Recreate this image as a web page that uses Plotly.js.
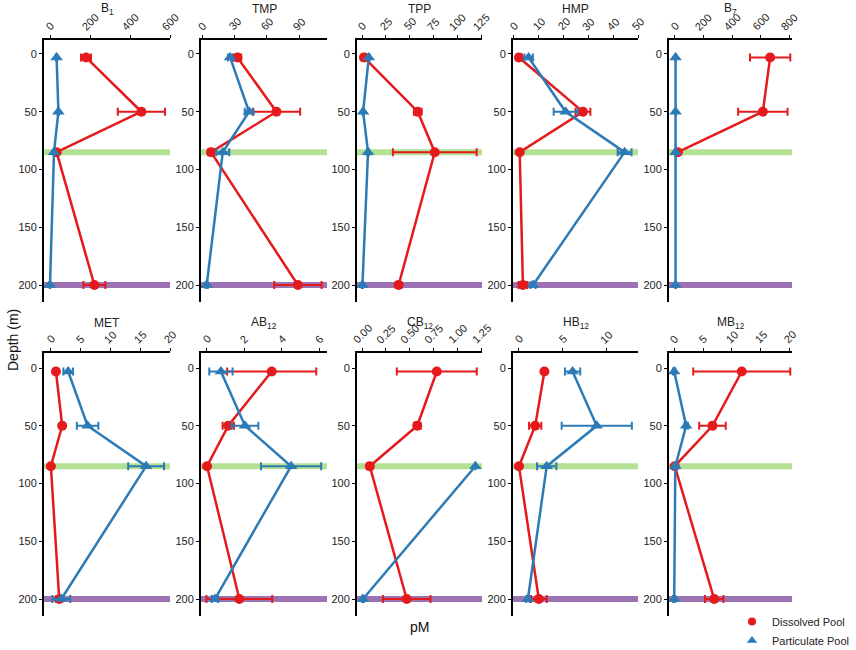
<!DOCTYPE html>
<html>
<head>
<meta charset="utf-8">
<script src="https://cdn.plot.ly/plotly-3.0.1.min.js"></script>
<style>
  body { margin: 0; background: #fff; }
  #chart { width: 856px; height: 650px; }
</style>
</head>
<body>
<div id="chart"></div>
<script>
// sampling depths (m)
const depths = [3, 50, 85, 200];

// panel titles, row by row
const panelNames = ['B<sub>1</sub>', 'TMP', 'TPP', 'HMP', 'B<sub>7</sub>',
                    'MET', 'AB<sub>12</sub>', 'CB<sub>12</sub>', 'HB<sub>12</sub>', 'MB<sub>12</sub>'];

// tick values on the pM axis of each panel
const pmTicks = [
  [0, 200, 400, 600],
  [0, 30, 60, 90],
  [0, 25, 50, 75, 100, 125],
  [0, 10, 20, 30, 40, 50],
  [0, 200, 400, 600, 800],
  [0, 5, 10, 15, 20],
  [0, 2, 4, 6],
  [0, 0.25, 0.5, 0.75, 1.0, 1.25],
  [0, 5, 10],
  [0, 5, 10, 15, 20]
];
const pmTickText = [
  null, null, null, null, null, null, null,
  ['0.00', '0.25', '0.50', '0.75', '1.00', '1.25'],
  null, null
];

// dissolved pool (red) means and errors
const dissolved = [
  [180, 457, 33, 222],
  [32.6, 68.8, 8.1, 88.7],
  [2, 58.5, 76.4, 38.4],
  [2, 27.8, 2.3, 3.6],
  [667, 616, 21, null],
  [0.9, 1.95, 0.05, 1.45],
  [3.46, 1.15, 0.02, 1.74],
  [0.785, 0.58, 0.081, 0.469],
  [2.94, 1.89, 0.04, 2.3],
  [11.7, 6.63, 0.1, 6.93]
];
const dissolvedErr = [
  [25, 118, 4, 55],
  [3.5, 22, 2.7, 22],
  [2.5, 4, 44, 3],
  [1.1, 3, 0.5, 1.8],
  [141, 173, 8, 0],
  [0.2, 0.2, 0.1, 0.5],
  [2.37, 0.3, 0.05, 1.75],
  [0.42, 0.035, 0.03, 0.25],
  [0.2, 0.7, 0.1, 0.9],
  [8.4, 2.3, 0.3, 1.6]
];

// particulate pool (blue) means and errors
const particulate = [
  [33, 42, 20, 0],
  [25.8, 43.4, 19, 4.1],
  [7.1, 1.1, 6.3, 0.4],
  [5.9, 20.8, 44.6, 7.7],
  [5, 5, 5, 5],
  [2.95, 6.2, 16, 1.8],
  [0.76, 2.04, 4.49, 0.44],
  [null, null, 1.19, 0.01],
  [6.15, 8.9, 3.2, 1.06],
  [0, 2.07, 0.2, 0]
];
const particulateErr = [
  [3, 3, 3, 1],
  [2, 4, 6, 1],
  [1, 0.5, 1, 0.5],
  [1.7, 4.8, 2.8, 1],
  [2, 2, 2, 2],
  [0.8, 1.8, 3, 1.5],
  [0.62, 0.71, 1.6, 0.16],
  [0, 0, 0, 0.01],
  [0.87, 4, 1.1, 0.2],
  [0.2, 0.3, 0.2, 0.2]
];

// horizontal bands: chlorophyll max (green) and deep sample (purple)
const bandDepths = [85, 200];
const bandColors = ['rgba(160,216,120,0.8)', 'rgba(130,80,160,0.8)'];

const RED = '#e41a1c';
const BLUE = '#2c7bb6';

// panel geometry in pixels
const W = 856, H = 650;
const colLeft = [44, 201, 357, 513, 669];
const colRight = [170, 327, 482, 638, 792];
const rowTop = [40, 353];
const rowBottom = [302, 616];
const depthRange = [[214.7, -12.1], [214.7, -13]];
const pmRange = [
  [-30, 600], [-1.2, 115.7], [-5.3, 126], [-0.4, 50], [-41, 820],
  [-1.1, 20], [-0.3, 6.4], [-0.053, 1.26], [-0.64, 13.6], [-0.9, 20.4]
];

const traces = [];
const layout = {
  width: W, height: H,
  margin: {l: 0, r: 0, t: 0, b: 0, autoexpand: false},
  paper_bgcolor: '#fff',
  plot_bgcolor: '#fff',
  font: {family: 'Liberation Sans, Arial, sans-serif', color: '#222', size: 11},
  showlegend: true,
  legend: {
    x: 732 / W, y: 1 - 607 / H, xanchor: 'left', yanchor: 'top',
    font: {size: 11, color: '#222'},
    bgcolor: 'rgba(0,0,0,0)',
    itemwidth: 30, tracegroupgap: 0
  },
  shapes: [],
  annotations: []
};

for (let i = 0; i < 10; i++) {
  const row = Math.floor(i / 5), col = i % 5;
  const n = i + 1;
  const xa = 'xaxis' + (n === 1 ? '' : n), ya = 'yaxis' + (n === 1 ? '' : n);
  const xr = 'x' + (n === 1 ? '' : n), yr = 'y' + (n === 1 ? '' : n);

  layout[xa] = {
    domain: [colLeft[col] / W, colRight[col] / W],
    range: pmRange[i],
    anchor: yr, side: 'top',
    showline: true, linecolor: '#000', linewidth: 2,
    ticks: 'outside', ticklen: 3, tickcolor: '#000', tickwidth: 1,
    tickvals: pmTicks[i],
    showticklabels: false,
    showgrid: false, zeroline: false, fixedrange: true
  };
  layout[ya] = {
    domain: [1 - rowBottom[row] / H, 1 - rowTop[row] / H],
    range: depthRange[row],
    anchor: xr,
    showline: true, linecolor: '#000', linewidth: 2,
    ticks: 'outside', ticklen: 3, tickcolor: '#000', tickwidth: 1,
    tickvals: [0, 50, 100, 150, 200],
    tickfont: {size: 11, color: '#222'},
    showgrid: false, zeroline: false, fixedrange: true
  };

  // rotated pM tick labels, centred over each tick
  const labels = pmTickText[i] || pmTicks[i].map(String);
  pmTicks[i].forEach((v, k) => {
    layout.annotations.push({
      text: labels[k], showarrow: false, textangle: -45,
      xref: xr, yref: 'paper',
      x: v, y: 1 - (rowTop[row] - 6) / H,
      xanchor: 'center', yanchor: 'bottom',
      borderpad: 0,
      font: {size: 11, color: '#222'}
    });
  });

  bandDepths.forEach((d, k) => {
    layout.shapes.push({
      type: 'rect', layer: 'below',
      xref: xr + ' domain', yref: yr,
      x0: 0, x1: 1, y0: d - 2.6, y1: d + 2.6,
      fillcolor: bandColors[k], line: {width: 0}
    });
  });

  layout.annotations.push({
    text: panelNames[i], showarrow: false,
    xref: 'paper', yref: 'paper',
    x: (colLeft[col] + colRight[col]) / 2 / W,
    y: 1 - (row === 0 ? 9 : 323) / H,
    xanchor: 'center', yanchor: 'middle',
    font: {size: 12, color: '#222'}
  });

  traces.push({
    type: 'scatter', mode: 'lines+markers',
    x: dissolved[i], y: depths, xaxis: xr, yaxis: yr,
    connectgaps: false,
    line: {color: RED, width: 2.5},
    marker: {color: RED, size: 10, symbol: 'circle'},
    error_x: {type: 'data', array: dissolvedErr[i], color: RED, thickness: 2, width: 4},
    showlegend: false, hoverinfo: 'skip'
  });
  traces.push({
    type: 'scatter', mode: 'lines+markers',
    x: particulate[i], y: depths, xaxis: xr, yaxis: yr,
    line: {color: BLUE, width: 2.5},
    marker: {color: BLUE, size: 11, symbol: 'triangle-up'},
    error_x: {type: 'data', array: particulateErr[i], color: BLUE, thickness: 2, width: 4},
    showlegend: false, hoverinfo: 'skip'
  });
}

// legend-only entries
traces.push({
  type: 'scatter', mode: 'markers', x: [null], y: [null],
  name: 'Dissolved Pool', marker: {color: RED, size: 8, symbol: 'circle'}
});
traces.push({
  type: 'scatter', mode: 'markers', x: [null], y: [null],
  name: 'Particulate Pool', marker: {color: BLUE, size: 9, symbol: 'triangle-up'}
});

layout.annotations.push({
  text: 'Depth (m)', showarrow: false, textangle: -90,
  xref: 'paper', yref: 'paper', x: 13 / W, y: 1 - 340 / H,
  xanchor: 'center', yanchor: 'middle',
  font: {size: 14, color: '#111'}
});
layout.annotations.push({
  text: 'pM', showarrow: false,
  xref: 'paper', yref: 'paper', x: 419 / W, y: 1 - 627 / H,
  xanchor: 'center', yanchor: 'middle',
  font: {size: 14, color: '#111'}
});

Plotly.newPlot('chart', traces, layout, {staticPlot: true, displayModeBar: false});
</script>
</body>
</html>
